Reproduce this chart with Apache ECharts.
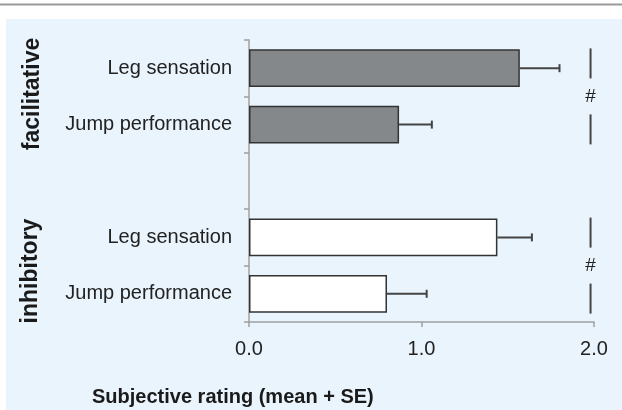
<!DOCTYPE html>
<html>
<head>
<meta charset="utf-8">
<script src="https://cdn.jsdelivr.net/npm/echarts@6/dist/echarts.min.js"></script>
<style>
html,body{margin:0;padding:0;background:#fff;}
#chart{width:622px;height:410px;}
</style>
</head>
<body>
<div id="chart"></div>
<script>
// categories top to bottom (empty slot separates the two groups)
var categories = ['Leg sensation', 'Jump performance', '', 'Leg sensation', 'Jump performance'];
var facilitative = [1.57, 0.87, null, null, null];
var inhibitory = [null, null, null, 1.44, 0.80];
var means = [1.57, 0.87, null, 1.44, 0.80];
var se = [0.23, 0.19, null, 0.20, 0.23];
var groups = [
	{name: 'facilitative', first: 0, second: 1},
	{name: 'inhibitory', first: 3, second: 4}
];
var sigX = 1.98;
var xTicks = [0, 1, 2];

var chart = echarts.init(document.getElementById('chart'));

//误差线
var errData = [];
means.forEach(function(m, i){
	if(m != null) errData.push([m, i, m + se[i]]);
});

function errItem(params, api){
	var a = api.coord([api.value(0), api.value(1)]);
	var b = api.coord([api.value(2), api.value(1)]);
	return {
		type: 'group',
		children: [
			{type: 'line', shape: {x1: a[0], y1: a[1], x2: b[0], y2: b[1]}, style: {stroke: '#444', lineWidth: 2}},
			{type: 'line', shape: {x1: b[0], y1: b[1] - 4, x2: b[0], y2: b[1] + 4}, style: {stroke: '#444', lineWidth: 2}}
		]
	};
}

//显著性标记
var sigData = groups.map(function(g){ return [sigX, g.first, g.second]; });
function sigItem(params, api){
	var a = api.coord([api.value(0), api.value(1)]);
	var b = api.coord([api.value(0), api.value(2)]);
	var mid = (a[1] + b[1]) / 2;
	var x = a[0];
	return {
		type: 'group',
		children: [
			{type: 'line', shape: {x1: x, y1: mid - 48, x2: x, y2: mid - 18}, style: {stroke: '#444', lineWidth: 2}},
			{type: 'line', shape: {x1: x, y1: mid + 18, x2: x, y2: mid + 48}, style: {stroke: '#444', lineWidth: 2}},
			{type: 'text', x: x, y: mid, style: {text: '#', fontSize: 19, fill: '#222', align: 'center', verticalAlign: 'middle', fontFamily: 'Liberation Sans'}}
		]
	};
}

var option = {
	animation: false,
	textStyle: {fontFamily: 'Liberation Sans'},
	graphic: [
		{type: 'rect', z: -10, shape: {x: 6, y: 19, width: 616, height: 391}, style: {fill: '#EAF4FC'}},
		{type: 'line', z: -10, shape: {x1: 0, y1: 4.5, x2: 622, y2: 4.5}, style: {stroke: '#999', lineWidth: 2}},
		{type: 'text', x: 33, y: 94, rotation: Math.PI / 2, style: {text: groups[0].name, fontSize: 23, fontWeight: 'bold', fill: '#1a1a1a', align: 'center', verticalAlign: 'middle', fontFamily: 'Liberation Sans'}},
		{type: 'text', x: 31, y: 271, rotation: Math.PI / 2, style: {text: groups[1].name, fontSize: 23, fontWeight: 'bold', fill: '#1a1a1a', align: 'center', verticalAlign: 'middle', fontFamily: 'Liberation Sans'}}
	],
	title: {
		text: 'Subjective rating (mean + SE)',
		left: 92,
		top: 387,
		padding: 0,
		textStyle: {fontSize: 20, fontWeight: 'bold', color: '#1a1a1a', fontFamily: 'Liberation Sans'}
	},
	grid: {left: 249, top: 40, right: 28, bottom: 88},
	xAxis: {
		type: 'value',
		min: xTicks[0],
		max: xTicks[xTicks.length - 1],
		interval: 1,
		splitLine: {show: false},
		axisLine: {show: true, lineStyle: {color: '#a0a0a0', width: 1.5}},
		axisTick: {show: true, length: 5, lineStyle: {color: '#a0a0a0', width: 1.5}},
		axisLabel: {fontSize: 20, color: '#222', margin: 17, formatter: function(v){ return v.toFixed(1); }}
	},
	yAxis: {
		type: 'category',
		inverse: true,
		data: categories,
		axisLine: {show: true, lineStyle: {color: '#a0a0a0', width: 1.5}},
		axisTick: {show: true, length: 5, lineStyle: {color: '#a0a0a0', width: 1.5}},
		axisLabel: {fontSize: 20, color: '#222', margin: 17}
	},
	series: [
		{
			type: 'bar',
			data: facilitative,
			barWidth: '67%',
			barGap: '-100%',
			itemStyle: {color: '#84888b', borderColor: '#333', borderWidth: 1.5}
		},
		{
			type: 'bar',
			data: inhibitory,
			barWidth: '67%',
			barGap: '-100%',
			itemStyle: {color: '#ffffff', borderColor: '#333', borderWidth: 1.5}
		},
		{
			type: 'custom',
			renderItem: errItem,
			data: errData,
			encode: {x: [0, 2], y: 1},
			z: 5
		},
		{
			type: 'custom',
			renderItem: sigItem,
			data: sigData,
			encode: {x: 0, y: [1, 2]},
			z: 5
		}
	]
};
chart.setOption(option);
</script>
</body>
</html>
